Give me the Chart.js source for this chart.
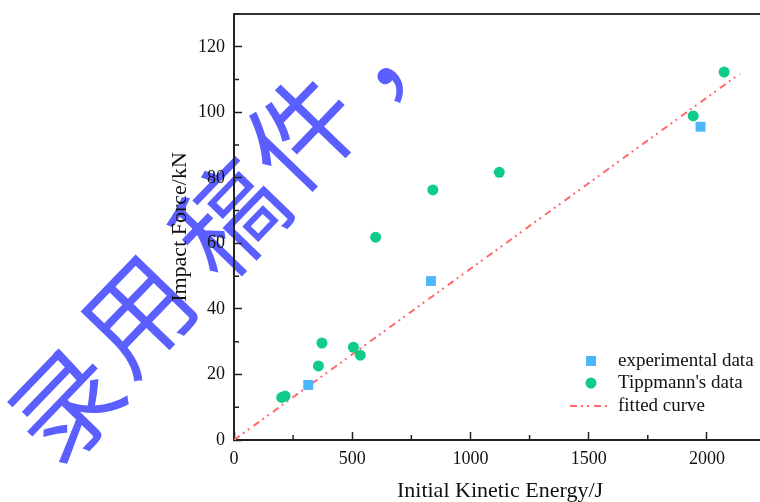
<!DOCTYPE html>
<html>
<head>
<meta charset="utf-8">
<script src="https://cdn.jsdelivr.net/npm/chart.js@4.4.0/dist/chart.umd.min.js"></script>
<style>
  html, body { margin: 0; padding: 0; background: #fff; overflow: hidden; width: 760px; height: 502px; }
  canvas { display: block; }
</style>
</head>
<body>
<canvas id="chart" width="800" height="502"></canvas>
<script>
// experimental data (blue squares)
const expEnergy = [314, 833, 1973];
const expForce = [16.8, 48.5, 95.6];
// Tippmann's data (green circles)
const tipEnergy = [202, 216, 357, 372, 505, 534, 599, 841, 1122, 1942, 2073];
const tipForce = [13.0, 13.4, 22.6, 29.6, 28.3, 25.9, 61.9, 76.3, 81.7, 98.9, 112.3];
// fitted curve
const fitEnergy = [0, 2140];
const fitForce = [0, 111.8];

const xTicks = [0, 500, 1000, 1500, 2000];
const yTicks = [0, 20, 40, 60, 80, 100, 120];
const xMinor = [250, 750, 1250, 1750, 2250];
const yMinor = [10, 30, 50, 70, 90, 110, 130];

const legendLabels = ['experimental data', "Tippmann's data", 'fitted curve'];
const watermark = ['录', '用', '稿', '件', '，'];

const blue = '#4db6fb';
const green = '#0fcc8a';
const red = '#ff6b6b';
const fitDash = [7, 4, 2, 4, 2, 5];

const serif = "'Liberation Serif', 'Times New Roman', serif";
Chart.defaults.color = '#111';
Chart.defaults.font.family = serif;

function toPoints(xs, ys) {
    return xs.map((x, i) => ({ x: x, y: ys[i] }));
}

const extras = {
    id: 'extras',
    beforeDraw(chart) {
        // watermark, under the axes
        const ctx = chart.ctx;
        const spots = [[66, 404], [137, 314], [229, 218], [302, 132], [388, 40]];
        ctx.save();
        ctx.fillStyle = '#5b5fff';
        ctx.font = "108px 'Noto Sans CJK SC'";
        ctx.textAlign = 'center';
        ctx.textBaseline = 'middle';
        watermark.forEach((ch, i) => {
            ctx.save();
            ctx.translate(spots[i][0], spots[i][1]);
            ctx.rotate(-46 * Math.PI / 180);
            ctx.fillText(ch, 0, 0);
            ctx.restore();
        });
        ctx.restore();
    },
    afterDraw(chart) {
        const ctx = chart.ctx;
        const area = chart.chartArea;
        const xs = chart.scales.x;
        const ys = chart.scales.y;
        ctx.save();
        // top frame
        ctx.strokeStyle = '#333';
        ctx.lineWidth = 2;
        ctx.beginPath();
        ctx.moveTo(area.left - 1, area.top);
        ctx.lineTo(area.right, area.top);
        ctx.stroke();
        // minor ticks
        ctx.strokeStyle = '#222';
        ctx.lineWidth = 1.5;
        ctx.beginPath();
        xMinor.forEach(v => {
            const px = xs.getPixelForValue(v);
            ctx.moveTo(px, area.bottom);
            ctx.lineTo(px, area.bottom - 5);
        });
        yMinor.forEach(v => {
            const py = ys.getPixelForValue(v);
            ctx.moveTo(area.left, py);
            ctx.lineTo(area.left + 5, py);
        });
        ctx.stroke();

        // legend
        const lx = 591, tx = 618;
        const rows = [361, 383, 406];
        ctx.fillStyle = blue;
        ctx.fillRect(lx - 5, rows[0] - 5, 10, 10);
        ctx.fillStyle = green;
        ctx.beginPath();
        ctx.arc(lx, rows[1], 5.5, 0, Math.PI * 2);
        ctx.fill();
        ctx.strokeStyle = red;
        ctx.lineWidth = 2;
        ctx.setLineDash(fitDash);
        ctx.beginPath();
        ctx.moveTo(570, rows[2]);
        ctx.lineTo(611, rows[2]);
        ctx.stroke();
        ctx.setLineDash([]);
        ctx.fillStyle = '#111';
        ctx.font = '19px ' + serif;
        ctx.textAlign = 'left';
        ctx.textBaseline = 'middle';
        legendLabels.forEach((t, i) => ctx.fillText(t, tx, rows[i]));
        ctx.restore();
    }
};

const ctx = document.getElementById('chart').getContext('2d');
const myChart = new Chart(ctx, {
    type: 'scatter',
    data: {
        datasets: [{
            label: legendLabels[0],
            data: toPoints(expEnergy, expForce),
            pointStyle: 'rect',
            pointRadius: 7,
            backgroundColor: blue,
            borderColor: blue,
            borderWidth: 0
        }, {
            label: legendLabels[1],
            data: toPoints(tipEnergy, tipForce),
            pointStyle: 'circle',
            pointRadius: 5.5,
            backgroundColor: green,
            borderColor: green,
            borderWidth: 0
        }, {
            label: legendLabels[2],
            data: toPoints(fitEnergy, fitForce),
            showLine: true,
            pointRadius: 0,
            borderColor: red,
            borderWidth: 2,
            borderDash: fitDash
        }]
    },
    options: {
        responsive: false,
        animation: false,
        layout: {
            padding: { top: 14, right: 34, bottom: 0, left: 0 }
        },
        plugins: {
            legend: { display: false },
            tooltip: { enabled: false }
        },
        scales: {
            x: {
                type: 'linear',
                min: 0,
                max: 2250,
                afterBuildTicks: s => { s.ticks = xTicks.map(v => ({ value: v })); },
                afterFit: s => { s.height = 62; s.paddingLeft = 0; s.paddingRight = 0; },
                ticks: { font: { size: 18 }, padding: 16, maxRotation: 0, color: '#111', callback: v => String(v) },
                grid: { drawOnChartArea: false, drawTicks: true, tickLength: -8, tickColor: '#222', tickWidth: 1.5 },
                border: { color: '#222', width: 2 },
                title: {
                    display: true,
                    text: 'Initial Kinetic Energy/J',
                    font: { size: 22, lineHeight: 1 },
                    color: '#111',
                    padding: { top: 0, bottom: 0 }
                }
            },
            y: {
                type: 'linear',
                min: 0,
                max: 130,
                afterBuildTicks: s => { s.ticks = yTicks.map(v => ({ value: v })); },
                afterFit: s => { s.width = 234; s.paddingTop = 0; s.paddingBottom = 0; },
                ticks: { font: { size: 18 }, padding: 17, color: '#111', callback: v => String(v) },
                grid: { drawOnChartArea: false, drawTicks: true, tickLength: -8, tickColor: '#222', tickWidth: 1.5 },
                border: { color: '#222', width: 2 },
                title: {
                    display: true,
                    text: 'Impact Force/kN',
                    font: { size: 22, lineHeight: 1 },
                    color: '#111',
                    padding: { top: 169, bottom: 0 }
                }
            }
        }
    },
    plugins: [extras]
});
</script>
</body>
</html>
